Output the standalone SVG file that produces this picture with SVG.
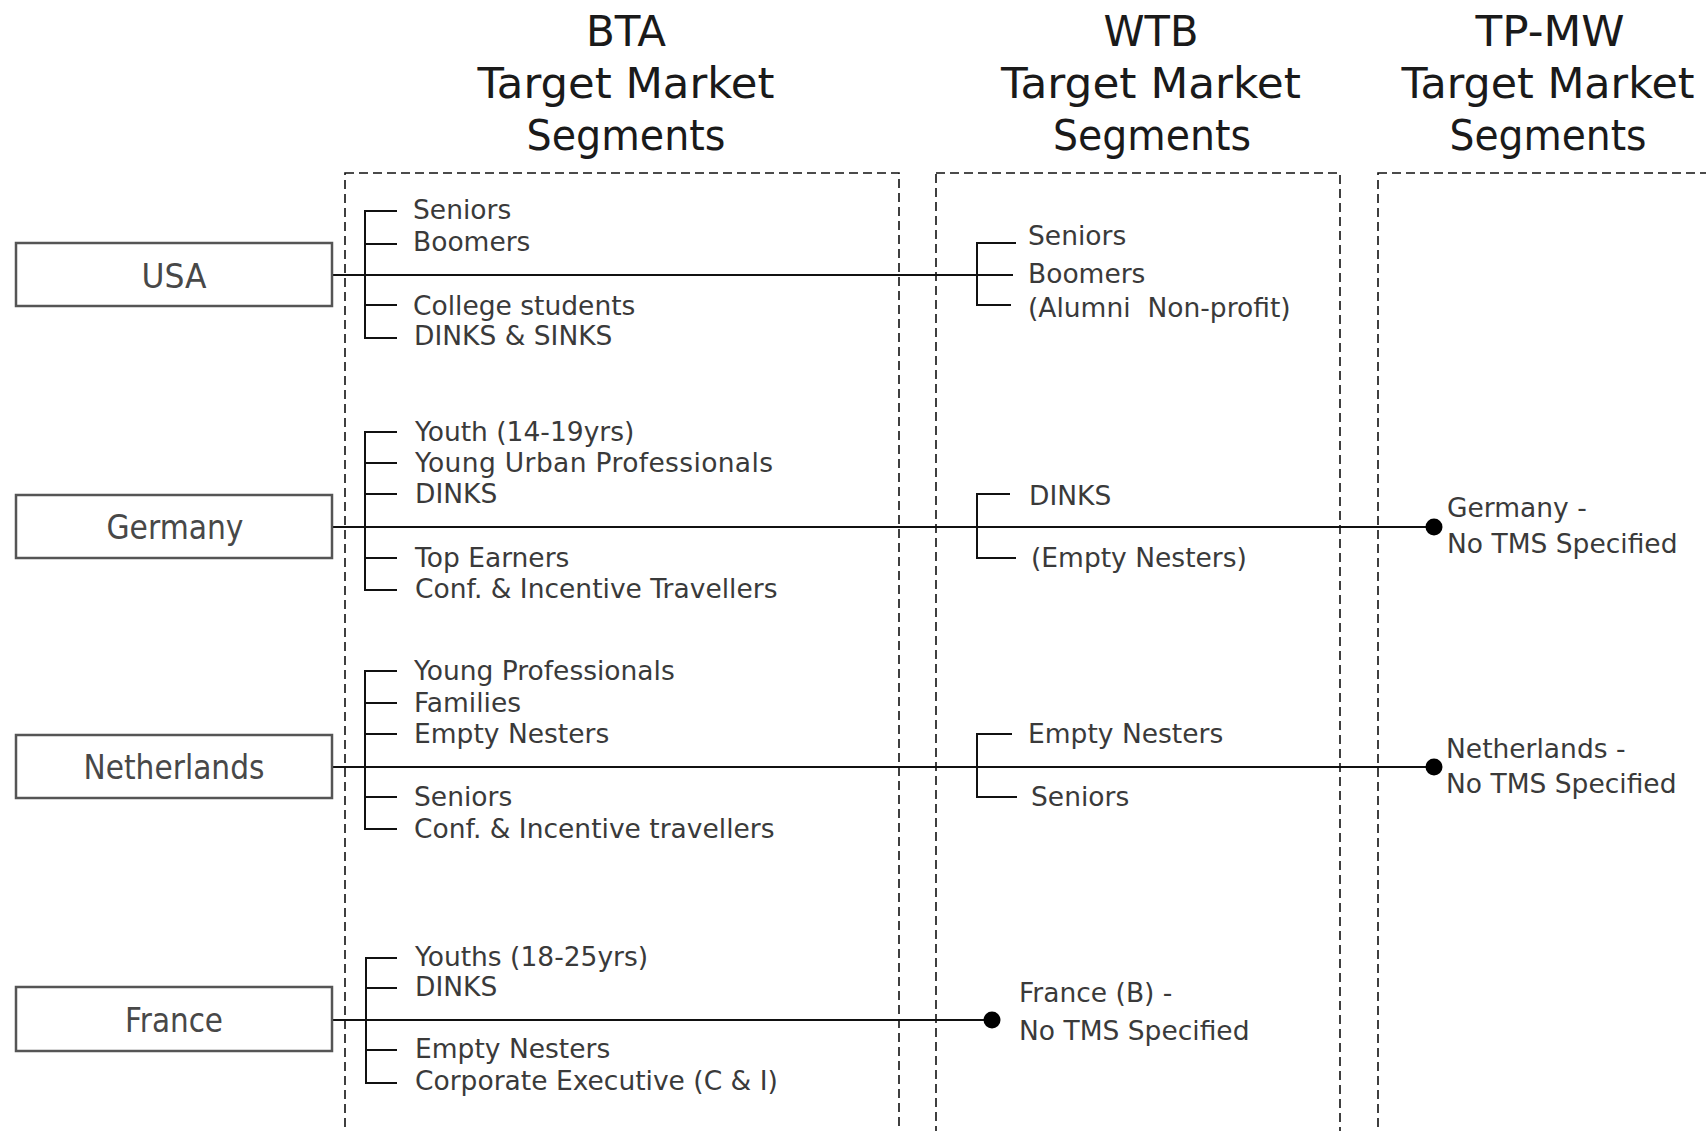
<svg xmlns="http://www.w3.org/2000/svg" width="1706" height="1131" viewBox="0 0 1706 1131">
<style>
.hdr{font-family:"DejaVu Sans",sans-serif;font-size:42px;fill:#1a1a1a;text-anchor:middle}
.txt{font-family:"DejaVu Sans",sans-serif;font-size:26.5px;fill:#3a3a3a}
.cty{font-family:"DejaVu Sans",sans-serif;font-size:34px;fill:#484848;text-anchor:middle}
.box{fill:#fff;stroke:#555;stroke-width:2.5}
.dash{fill:none;stroke:#111;stroke-width:1.6;stroke-dasharray:9 5}
.ln{fill:none;stroke:#111;stroke-width:2}
.dot{fill:#000}
</style>
<rect width="1706" height="1131" fill="#fff"/>
<g id="headers">
<text class="hdr" x="626" y="46" textLength="80" lengthAdjust="spacingAndGlyphs">BTA</text>
<text class="hdr" x="626" y="98" textLength="297" lengthAdjust="spacingAndGlyphs">Target Market</text>
<text class="hdr" x="626" y="150" textLength="199" lengthAdjust="spacingAndGlyphs">Segments</text>
<text class="hdr" x="1151" y="46" textLength="95" lengthAdjust="spacingAndGlyphs">WTB</text>
<text class="hdr" x="1151" y="98" textLength="300" lengthAdjust="spacingAndGlyphs">Target Market</text>
<text class="hdr" x="1152" y="150" textLength="198" lengthAdjust="spacingAndGlyphs">Segments</text>
<text class="hdr" x="1550" y="46" textLength="149" lengthAdjust="spacingAndGlyphs">TP-MW</text>
<text class="hdr" x="1548" y="98" textLength="293" lengthAdjust="spacingAndGlyphs">Target Market</text>
<text class="hdr" x="1548" y="150" textLength="197" lengthAdjust="spacingAndGlyphs">Segments</text>
</g>
<g id="columns">
<rect id="col-bta" class="dash" x="345" y="173" width="554" height="980"/>
<rect id="col-wtb" class="dash" x="936" y="173" width="404" height="980"/>
<rect id="col-tpmw" class="dash" x="1378" y="173" width="400" height="980"/>
</g>
<g id="connectors">
<line class="ln" x1="332" y1="275" x2="1013" y2="275"/>
<line class="ln" x1="332" y1="527" x2="1434" y2="527"/>
<line class="ln" x1="332" y1="767" x2="1434" y2="767"/>
<line class="ln" x1="332" y1="1020" x2="992" y2="1020"/>
<circle class="dot" cx="1434" cy="527" r="8.5"/>
<circle class="dot" cx="1434" cy="767" r="8.5"/>
<circle class="dot" cx="992" cy="1020" r="8.5"/>
</g>
<g id="usa">
<rect class="box" x="16" y="243" width="316" height="63"/>
<text class="cty" x="174" y="288" textLength="65" lengthAdjust="spacingAndGlyphs">USA</text>
</g>
<g id="germany">
<rect class="box" x="16" y="495" width="316" height="63"/>
<text class="cty" x="175" y="539" textLength="137" lengthAdjust="spacingAndGlyphs">Germany</text>
</g>
<g id="netherlands">
<rect class="box" x="16" y="735" width="316" height="63"/>
<text class="cty" x="174" y="779" textLength="181" lengthAdjust="spacingAndGlyphs">Netherlands</text>
</g>
<g id="france">
<rect class="box" x="16" y="987" width="316" height="64"/>
<text class="cty" x="174" y="1032" textLength="98" lengthAdjust="spacingAndGlyphs">France</text>
</g>
<g id="bta-usa">
<path class="ln" d="M397 211H365V338H397M365 244H397M365 305H397"/>
<text class="txt" x="413" y="219">Seniors</text>
<text class="txt" x="413" y="251">Boomers</text>
<text class="txt" x="413" y="315">College students</text>
<text class="txt" x="414" y="345">DINKS &amp; SINKS</text>
</g>
<g id="bta-germany">
<path class="ln" d="M397 432H365V590H397M365 463H397M365 494H397M365 558H397"/>
<text class="txt" x="415" y="441">Youth (14-19yrs)</text>
<text class="txt" x="415" y="472" textLength="358">Young Urban Professionals</text>
<text class="txt" x="415" y="503">DINKS</text>
<text class="txt" x="415" y="567">Top Earners</text>
<text class="txt" x="415" y="598">Conf. &amp; Incentive Travellers</text>
</g>
<g id="bta-netherlands">
<path class="ln" d="M397 671H365V829H397M365 703H397M365 734H397M365 797H397"/>
<text class="txt" x="414" y="680">Young Professionals</text>
<text class="txt" x="414" y="712">Families</text>
<text class="txt" x="414" y="743">Empty Nesters</text>
<text class="txt" x="414" y="806">Seniors</text>
<text class="txt" x="414" y="838">Conf. &amp; Incentive travellers</text>
</g>
<g id="bta-france">
<path class="ln" d="M397 958H366V1083H397M366 988H397M366 1050H397"/>
<text class="txt" x="415" y="966">Youths (18-25yrs)</text>
<text class="txt" x="415" y="996">DINKS</text>
<text class="txt" x="415" y="1058">Empty Nesters</text>
<text class="txt" x="415" y="1090">Corporate Executive (C &amp; I)</text>
</g>
<g id="wtb-usa">
<path class="ln" d="M1016 243H977V305H1011"/>
<text class="txt" x="1028" y="245">Seniors</text>
<text class="txt" x="1028" y="283">Boomers</text>
<text class="txt" x="1028" y="317" xml:space="preserve" style="white-space:pre">(Alumni  Non-profit)</text>
</g>
<g id="wtb-germany">
<path class="ln" d="M1010 494H977V558H1016"/>
<text class="txt" x="1029" y="505">DINKS</text>
<text class="txt" x="1031" y="567">(Empty Nesters)</text>
</g>
<g id="wtb-netherlands">
<path class="ln" d="M1012 734H977V797H1017"/>
<text class="txt" x="1028" y="743">Empty Nesters</text>
<text class="txt" x="1031" y="806">Seniors</text>
</g>
<g id="wtb-france">
<text class="txt" x="1019" y="1002">France (B) -</text>
<text class="txt" x="1019" y="1040">No TMS Specified</text>
</g>
<g id="tpmw-germany">
<text class="txt" x="1447" y="517">Germany -</text>
<text class="txt" x="1447" y="553">No TMS Specified</text>
</g>
<g id="tpmw-netherlands">
<text class="txt" x="1446" y="758">Netherlands -</text>
<text class="txt" x="1446" y="793">No TMS Specified</text>
</g>
</svg>
